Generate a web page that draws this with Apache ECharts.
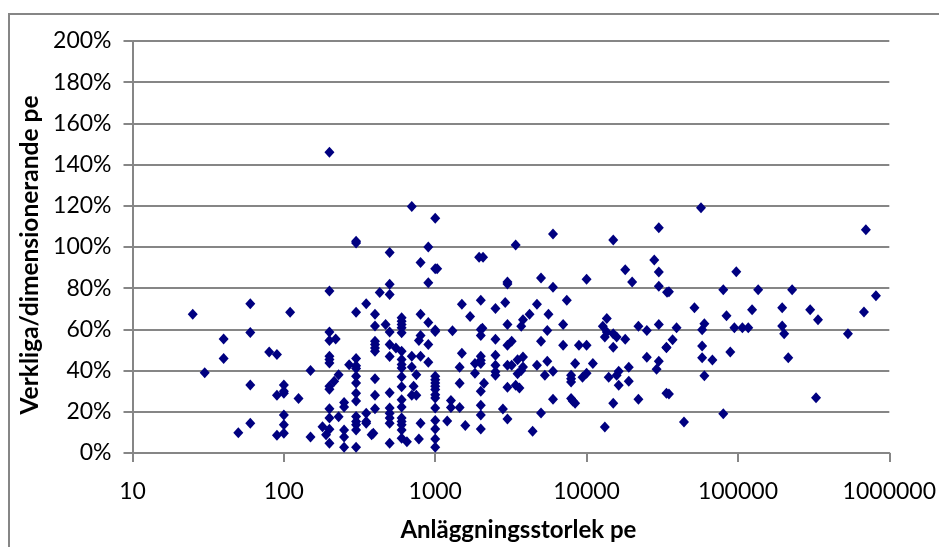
<!DOCTYPE html>
<html><head><meta charset="utf-8">
<style>html,body{margin:0;padding:0;background:#fff}#c{width:939px;height:547px}</style>
<script src="https://cdn.jsdelivr.net/npm/echarts@6/dist/echarts.min.js"></script>
</head><body><div id="c"></div>
<script>
const xTitle = 'Anläggningsstorlek pe';
const yTitle = 'Verkliga/dimensionerande pe';
// Below 1000 pe: [pe, percent]
const smallPlants = [
[25,67.3],[60,72.4],[110,68.3],[40,55.4],[60,58.5],[40,45.9],[30,39],[60,33],[60,14.5],[50,9.8],
[80,49],[90,47.8],[100,33],[100,30],[90,28],[100,29],[125,26.5],[150,40],[100,18.5],[100,13.7],
[100,9.6],[90,8.6],[150,7.8],[200,78.7],[200,58.7],[200,54.6],[220,55.4],[200,47],[200,45.4],[200,43.7],
[270,42.8],[300,45.9],[300,42.4],[300,41],[230,38],[215,34.8],[200,32.4],[200,31],[300,37.2],[300,34],
[300,29],[300,25.2],[400,36],[400,28],[400,21.5],[500,29.3],[250,24.5],[250,22.3],[200,21.5],[200,17],
[230,17.6],[200,11.5],[180,12.7],[190,8.8],[200,4.7],[250,11.2],[250,7.8],[250,2.8],[300,2.8],[300,17.7],
[300,15.3],[300,13.7],[300,11.2],[350,19.3],[350,15.3],[350,14.5],[390,9.6],[380,8.8],[500,4.7],[500,21.8],
[500,19.3],[500,17],[500,14.5],[600,37],[600,32.2],[600,25.9],[600,22.3],[600,17],[600,15.3],[600,13.7],
[600,11.2],[600,7.2],[650,5.5],[720,32.4],[700,28],[750,28],[750,38],[700,41.8],[700,47],[800,47],
[900,44],[600,45.4],[600,43],[600,41.3],[800,14.5],[780,6.8],[1000,37.2],[1000,35.6],[1000,34],[1000,32.4],
[1000,30.8],[1000,28.3],[1000,26.7],[1000,21.8],[1000,15.8],[1000,11.7],[1000,6.8],[1000,2.8],[430,77.9],[500,77],
[350,72.4],[300,68.3],[400,67.3],[470,62.4],[400,61.6],[500,58.7],[600,65.7],[600,64],[600,62.4],[600,60.8],
[600,58.4],[800,67.3],[900,63.4],[1000,59.7],[800,57],[780,54.6],[900,52.7],[400,54.3],[400,52.7],[400,51],
[400,49.4],[500,52.7],[550,51],[600,49.4],[500,46.8],[200,146],[700,119.7],[1000,113.9],[300,102.8],[300,102],
[500,97.3],[900,100],[800,92.5],[1000,89.5],[1030,89.5],[900,82.7],[500,81.9]
];
// 1000 pe to 30000 pe: [pe, percent]
const midPlants = [
[3400,101],[6000,106.3],[15000,103.4],[30000,109.3],[1950,95],[2070,95],[3000,83],[3000,82],[5000,85],[6000,80.5],
[10000,84.3],[18000,89],[20000,83],[28000,93.7],[30000,87.9],[30000,81],[34000,78],[1500,72.2],[2000,74.1],[2900,73.1],
[2500,70.2],[1700,66.3],[4700,72.2],[4200,67.3],[3800,64.7],[3700,61.5],[5600,67.3],[7400,74.1],[7000,62.4],[3000,62.4],
[2050,60.5],[2000,60],[5500,59.5],[13600,65.3],[12800,61.5],[22000,61.5],[30000,62.4],[25000,59.5],[1300,59.3],[1000,59],
[2000,57],[2500,55.2],[3200,54.2],[3000,52.3],[5000,54.2],[7000,52.3],[8900,52.3],[10000,52.3],[13200,56.3],[13600,58.7],
[15000,57.9],[15800,56.3],[18000,55.2],[15000,51.3],[33700,51.3],[25000,46.5],[30000,44.5],[29000,40.6],[19000,41.6],[16300,39.7],
[15800,37.7],[16300,32.9],[19000,34.8],[14000,36.8],[22000,26.1],[15000,24.2],[13200,12.6],[33700,29],[11000,43.5],[8400,43.5],
[7900,37.7],[7900,36],[7900,34.5],[9400,36.8],[10000,38.7],[6000,39.7],[5500,44.5],[5300,37.7],[4700,42.6],[6000,26.1],
[7900,26.5],[8400,24.2],[8100,25.3],[5000,19.4],[4400,10.6],[3000,16.5],[2800,21.3],[3000,31.9],[3400,32.9],[3600,31.6],
[3800,41.8],[3500,38.5],[3700,40],[3800,46.6],[3500,45.3],[3200,42.6],[3000,42.6],[2500,47.4],[2500,42.6],[2500,39.4],
[2500,37.7],[2000,47],[2000,45],[2000,43.4],[1830,43.5],[1830,38.7],[1500,48.4],[1450,41.6],[1450,33.9],[2100,33.9],
[2000,30],[1270,25.5],[1270,22.1],[1450,22.1],[2000,23.2],[2000,18.4],[2000,11.6],[1580,13.4],[1200,15.5]
];
// Above 30000 pe: [pe, percent]
const largePlants = [
[57000,119],[700000,108.4],[97500,88],[80000,79.2],[136000,79.2],[228000,79.2],[35000,78.3],[816000,76.3],[51600,70.5],[124000,69.5],
[196000,70.5],[300000,69.5],[680000,68.5],[338000,64.7],[84000,66.6],[60000,62.7],[58000,59.8],[39300,60.8],[94700,60.8],[107000,60.8],
[117000,60.8],[196000,61.7],[202000,57.9],[533000,57.9],[37000,55],[33700,51.1],[58000,52],[58000,46.2],[67800,45.2],[89000,49],
[215000,46.2],[60000,37.5],[35000,28.7],[328000,26.8],[80000,19],[44000,15]
];
const points = smallPlants.concat(midPlants, largePlants);
const chart = echarts.init(document.getElementById('c'), null, {renderer:'canvas'});
const FF = 'Lato';
const line = {color:'#868686', width:2};
chart.setOption({
  animation:false,
  backgroundColor:'#fff',
  textStyle:{fontFamily:FF},
  grid:{left:132.5, right:48, top:41, bottom:94, containLabel:false},
  graphic:[
    {type:'line', silent:true, shape:{x1:9,y1:14,x2:9,y2:547}, style:{stroke:'#868686',lineWidth:2}},
    {type:'line', silent:true, shape:{x1:8,y1:14,x2:939,y2:14}, style:{stroke:'#868686',lineWidth:2}}
  ],
  xAxis:{
    type:'log', logBase:10, min:10, max:1000000,
    name:xTitle, nameLocation:'middle', nameGap:65,
    nameTextStyle:{fontFamily:FF,fontWeight:'bold',fontSize:24,color:'#000',padding:[0,0,0,15]},
    axisLine:{show:true,onZero:false,lineStyle:line},
    axisTick:{show:true,length:9,inside:false,lineStyle:line},
    minorTick:{show:false}, minorSplitLine:{show:false},
    splitLine:{show:false},
    axisLabel:{color:'#000',fontSize:23,margin:27,formatter:v=>String(Math.round(v))}
  },
  yAxis:{
    type:'value', min:0, max:2, interval:0.2,
    name:yTitle, nameLocation:'middle', nameGap:89,
    nameTextStyle:{fontFamily:FF,fontWeight:'bold',fontSize:24.5,color:'#000',padding:[0,16,0,0]},
    axisLine:{show:true,onZero:false,lineStyle:line},
    axisTick:{show:true,length:9,inside:false,lineStyle:line},
    splitLine:{show:true,lineStyle:{color:'#868686',width:2}},
    axisLabel:{color:'#000',fontSize:23,margin:21,formatter:v=>Math.round(v*100)+'%'}
  },
  series:[{
    type:'scatter', symbol:'diamond', symbolSize:[10,11],
    itemStyle:{color:'#000080',opacity:1},
    data:points.map(p=>[p[0],p[1]/100])
  }]
});
</script></body></html>
